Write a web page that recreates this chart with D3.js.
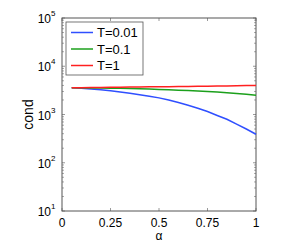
<!DOCTYPE html>
<html>
<head>
<meta charset="utf-8">
<script src="https://cdn.jsdelivr.net/npm/d3@7"></script>
<style>
  body { margin: 0; background: #fff; }
  text { font-family: "Liberation Sans", Arial, sans-serif; }
</style>
</head>
<body>
<svg id="chart"></svg>
<script>
// Data
const alpha = [0.05, 0.1, 0.15, 0.2, 0.25, 0.3, 0.35, 0.4, 0.45, 0.5,
               0.55, 0.6, 0.65, 0.7, 0.75, 0.8, 0.85, 0.9, 0.95, 1];
const condT001 = [3580, 3510, 3390, 3240, 3090, 2920, 2750, 2570, 2400, 2210,
                  2000, 1780, 1550, 1350, 1150, 955, 795, 630, 500, 390];
const condT01 = [3580, 3570, 3550, 3530, 3510, 3480, 3450, 3410, 3360, 3310,
                 3260, 3200, 3140, 3070, 2990, 2910, 2830, 2730, 2620, 2510];
const condT1 = [3580, 3600, 3620, 3640, 3660, 3680, 3700, 3720, 3740, 3760,
                3780, 3800, 3820, 3840, 3860, 3880, 3910, 3940, 3970, 4000];
const seriesNames = ["T=0.01", "T=0.1", "T=1"];
const seriesColors = ["#2f4fff", "#1ca01c", "#ff2020"];
const xTicks = [0, 0.25, 0.5, 0.75, 1];
const xTickLabels = ["0", "0.25", "0.5", "0.75", "1"];
const yExponents = [1, 2, 3, 4, 5];

const W = 295, H = 244;
const margin = { top: 18, right: 39, bottom: 33, left: 62 };
const width = W - margin.left - margin.right;
const height = H - margin.top - margin.bottom;

const svg = d3.select("#chart").attr("width", W).attr("height", H);
const g = svg.append("g").attr("transform", `translate(${margin.left},${margin.top})`);

const x = d3.scaleLinear().domain([0, 1]).range([0, width]);
const y = d3.scaleLog().domain([10, 1e5]).range([height, 0]);

const axisColor = "#555";

// ticks (inward, on all four sides like matlab)
const tickLen = 3;
xTicks.forEach((t) => {
  g.append("line").attr("x1", x(t)).attr("x2", x(t)).attr("y1", height).attr("y2", height - tickLen)
    .attr("stroke", axisColor).attr("stroke-width", 0.6);
  g.append("line").attr("x1", x(t)).attr("x2", x(t)).attr("y1", 0).attr("y2", tickLen)
    .attr("stroke", axisColor).attr("stroke-width", 0.6);
});

// minor log ticks
const minor = [];
for (let e = 1; e < 5; e++) for (let m = 2; m <= 9; m++) minor.push(m * Math.pow(10, e));
minor.forEach((v) => {
  g.append("line").attr("x1", 0).attr("x2", 2).attr("y1", y(v)).attr("y2", y(v))
    .attr("stroke", axisColor).attr("stroke-width", 0.5);
  g.append("line").attr("x1", width).attr("x2", width - 2).attr("y1", y(v)).attr("y2", y(v))
    .attr("stroke", axisColor).attr("stroke-width", 0.5);
});
yExponents.forEach((e) => {
  const v = Math.pow(10, e);
  g.append("line").attr("x1", 0).attr("x2", tickLen).attr("y1", y(v)).attr("y2", y(v))
    .attr("stroke", axisColor).attr("stroke-width", 0.6);
  g.append("line").attr("x1", width).attr("x2", width - tickLen).attr("y1", y(v)).attr("y2", y(v))
    .attr("stroke", axisColor).attr("stroke-width", 0.6);
});

// box
g.append("rect").attr("x", 0).attr("y", 0).attr("width", width).attr("height", height)
  .attr("fill", "none").attr("stroke", axisColor).attr("stroke-width", 1);

// x tick labels
xTicks.forEach((t, i) => {
  g.append("text").attr("x", x(t)).attr("y", height + 15.5)
    .attr("text-anchor", "middle").attr("font-size", 12).attr("fill", "#000")
    .text(xTickLabels[i]);
});

// y tick labels 10^e
yExponents.forEach((e) => {
  const yy = y(Math.pow(10, e));
  g.append("text").attr("x", -11).attr("y", yy + 5)
    .attr("text-anchor", "end").attr("font-size", 12).attr("fill", "#000").text("10");
  g.append("text").attr("x", -11).attr("y", yy - 2)
    .attr("text-anchor", "start").attr("font-size", 8).attr("fill", "#000").text(e);
});

// axis labels
g.append("text").attr("x", x(0.5)).attr("y", height + 28.5)
  .attr("text-anchor", "middle").attr("font-size", 12).text("α");
g.append("text").attr("transform", `translate(${-29},${height / 2}) rotate(-90)`)
  .attr("text-anchor", "middle").attr("font-size", 14).text("cond");

// lines
const line = d3.line().x((d) => x(d[0])).y((d) => y(d[1]));
[condT001, condT01, condT1].forEach((vals, i) => {
  g.append("path")
    .datum(alpha.map((a, j) => [a, vals[j]]))
    .attr("d", line)
    .attr("fill", "none")
    .attr("stroke", seriesColors[i])
    .attr("stroke-width", 1.5);
});

// legend
const legend = g.append("g").attr("transform", "translate(4,4)");
legend.append("rect").attr("x", 0).attr("y", 0).attr("width", 77).attr("height", 53)
  .attr("fill", "#fff").attr("stroke", axisColor).attr("stroke-width", 0.8);
seriesNames.forEach((name, i) => {
  const ly = 10.5 + i * 16.5;
  legend.append("line").attr("x1", 5).attr("x2", 27).attr("y1", ly).attr("y2", ly)
    .attr("stroke", seriesColors[i]).attr("stroke-width", 1.5);
  legend.append("text").attr("x", 31).attr("y", ly + 4.5)
    .attr("font-size", 13).text(name);
});
</script>
</body>
</html>
